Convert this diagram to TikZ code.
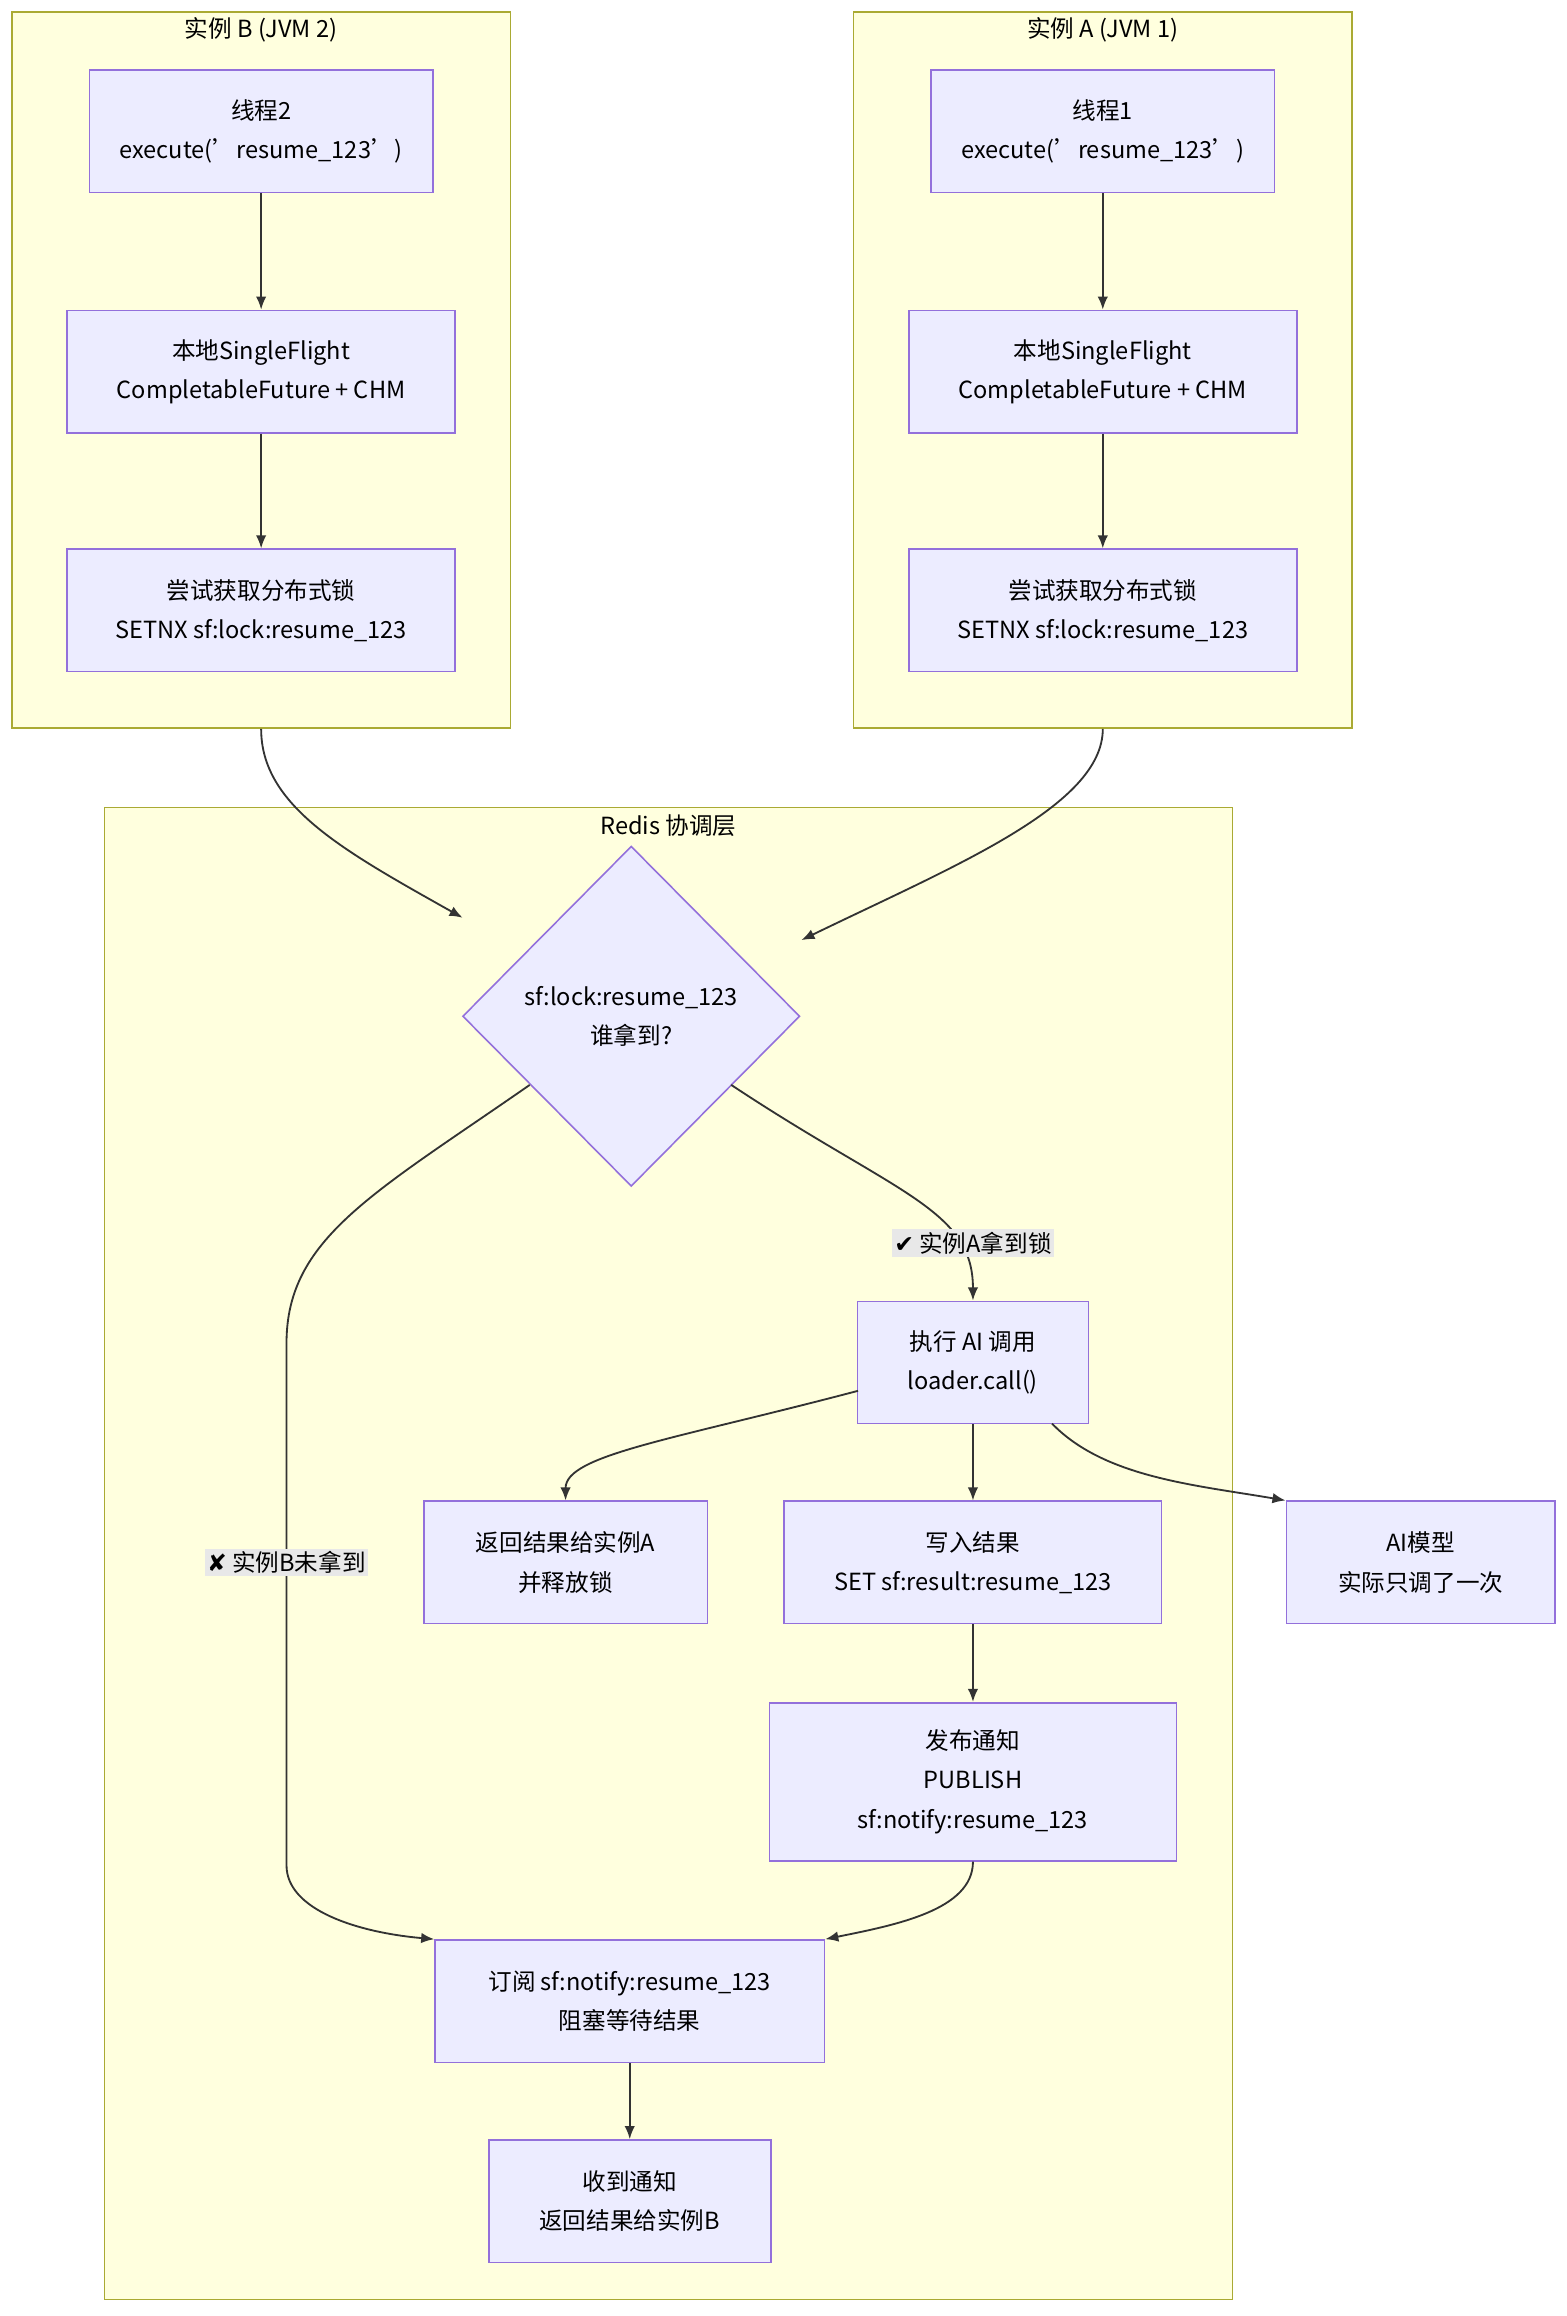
\documentclass[tikz,border=0pt]{standalone}
\usepackage{fontspec}
\setmainfont{Noto Sans CJK SC}
\newfontfamily\symf{DejaVu Sans}
\usetikzlibrary{shapes.geometric,arrows.meta}
\definecolor{nfill}{HTML}{ECECFF}\definecolor{nline}{HTML}{9370DB}
\definecolor{cfill}{HTML}{FFFFDE}\definecolor{cline}{HTML}{AAAA33}
\definecolor{eline}{HTML}{333333}
\tikzset{
 box/.style={draw=nline,fill=nfill,line width=0.6pt,minimum height=1.64cm,align=center,font=\fontsize{9}{15}\selectfont,inner sep=0pt},
 clus/.style={draw=cline,fill=cfill,line width=0.6pt,inner sep=0pt},
 ttl/.style={font=\fontsize{9}{11}\selectfont},
 edge/.style={draw=eline,line width=0.7pt,-{Latex[length=5pt,width=4pt]}},
 lbl/.style={fill=black!9,inner sep=1pt,font=\fontsize{9}{11}\selectfont}
}
\begin{document}
\begin{tikzpicture}[x=0.02cm,y=-0.02cm]
\useasboundingbox[fill=white] (0,0) rectangle (1050,1552);
\node[clus,minimum width=6.68cm,minimum height=9.6cm] (cB) at (175,248) {};
\node[clus,minimum width=6.68cm,minimum height=9.6cm] (cA) at (739,248) {};
\node[clus,minimum width=15.12cm,minimum height=20cm] (cR) at (448,1041) {};
\node[ttl] (tB) at (175,20) {实例 B (JVM 2)};
\node[ttl] (tA) at (739,20) {实例 A (JVM 1)};
\node[ttl] (tR) at (448,553) {Redis 协调层};
\node[box,minimum width=4.6cm] (B1) at (175,88) {线程2\\execute('resume\_123')};
\node[box,minimum width=5.2cm] (B2) at (175,249) {本地SingleFlight\\CompletableFuture + CHM};
\node[box,minimum width=5.2cm] (B3) at (175,409) {尝试获取分布式锁\\SETNX sf:lock:resume\_123};
\node[box,minimum width=4.6cm] (A1) at (739,88) {线程1\\execute('resume\_123')};
\node[box,minimum width=5.2cm] (A2) at (739,249) {本地SingleFlight\\CompletableFuture + CHM};
\node[box,minimum width=5.2cm] (A3) at (739,409) {尝试获取分布式锁\\SETNX sf:lock:resume\_123};
\node[box,diamond,minimum width=4.52cm,minimum height=4.56cm] (D) at (423,681) {sf:lock:resume\_123\\谁拿到?};
\node[box,minimum width=3.1cm] (E) at (652,913) {执行 AI 调用\\loader.call()};
\node[box,minimum width=3.8cm] (R) at (379,1047) {返回结果给实例A\\并释放锁};
\node[box,minimum width=5.06cm] (W) at (652,1047) {写入结果\\SET sf:result:resume\_123};
\node[box,minimum width=3.6cm] (M) at (952,1047) {AI模型\\实际只调了一次};
\node[box,minimum width=5.46cm,minimum height=2.12cm] (P) at (652,1194) {发布通知\\PUBLISH\\sf:notify:resume\_123};
\node[box,minimum width=5.22cm] (S) at (422,1341) {订阅 sf:notify:resume\_123\\阻塞等待结果};
\node[box,minimum width=3.78cm] (V) at (422,1475) {收到通知\\返回结果给实例B};
\draw[edge] (B1) -- (B2);
\draw[edge] (B2) -- (B3);
\draw[edge] (A1) -- (A2);
\draw[edge] (A2) -- (A3);
\draw[edge] (cB.south) .. controls (175,540) and (230,570) .. (310,615);
\draw[edge] (cA.south) .. controls (739,540) and (640,580) .. (537,630);
\draw[edge] (355,727) .. controls (250,800) and (192,830) .. (192,900) -- (192,1250) .. controls (192,1280) and (240,1295) .. (S.north west);
\node[lbl] (lB) at (192,1047) {{\symf ✘} 实例B未拿到};
\draw[edge] (490,727) .. controls (600,800) and (652,810) .. (E.north);
\node[lbl] (lA) at (652,833) {{\symf ✔} 实例A拿到锁};
\draw[edge] (575,932) .. controls (450,965) and (379,975) .. (R.north);
\draw[edge] (E) -- (W);
\draw[edge] (705,954) .. controls (740,990) and (800,995) .. (M.north west);
\draw[edge] (W) -- (P);
\draw[edge] (P.south) .. controls (652,1280) and (600,1290) .. (S.north east);
\draw[edge] (S) -- (V);
\end{tikzpicture}
\end{document}
